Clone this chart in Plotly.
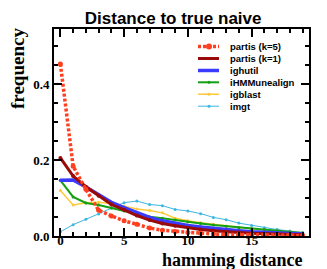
import plotly.graph_objects as go

# ---------------- data ----------------
hamming = list(range(20))

partis_k5 = [0.454, 0.184, 0.123, 0.068, 0.053, 0.040, 0.031, 0.021, 0.015, 0.012,
             0.009, 0.007, 0.005, 0.004, 0.004, 0.003, 0.003, 0.002, 0.002, 0.001]
partis_k1 = [0.206, 0.158, 0.130, 0.106, 0.083, 0.069, 0.054, 0.042, 0.033, 0.027,
             0.022, 0.017, 0.014, 0.011, 0.009, 0.007, 0.006, 0.005, 0.004, 0.003]
ighutil = [0.147, 0.148, 0.129, 0.109, 0.089, 0.075, 0.061, 0.049, 0.040, 0.033,
           0.028, 0.024, 0.020, 0.016, 0.014, 0.011, 0.009, 0.008, 0.006, 0.005]
ihmmunealign = [0.147, 0.103, 0.087, 0.082, 0.074, 0.066, 0.059, 0.051, 0.047, 0.042,
                0.037, 0.033, 0.029, 0.026, 0.022, 0.019, 0.017, 0.014, 0.011, 0.008]
igblast = [0.120, 0.082, 0.088, 0.089, 0.086, 0.079, 0.071, 0.067, 0.061, 0.047,
           0.040, 0.035, 0.031, 0.026, 0.022, 0.019, 0.016, 0.013, 0.011, 0.008]
imgt = [0.011, 0.030, 0.044, 0.058, 0.074, 0.088, 0.092, 0.083, 0.080, 0.070,
        0.066, 0.059, 0.049, 0.043, 0.034, 0.028, 0.022, 0.017, 0.013, 0.009]

series_names = ["partis (k=5)", "partis (k=1)", "ighutil", "iHMMunealign", "igblast", "imgt"]
series_values = [partis_k5, partis_k1, ighutil, ihmmunealign, igblast, imgt]

y_tick_vals = [0.0, 0.2, 0.4]
y_tick_text = ["0.0", "0.2", "0.4"]
x_tick_vals = [0, 5, 10, 15]
x_tick_text = ["0", "5", "10", "15"]

# ---------------- styles ----------------
colors = ["#ff3f1f", "#990a0a", "#3b3bff", "#13a013", "#ffc93a", "#3cb6e2"]
widths = [3.5, 3, 3.5, 2, 1.5, 1]
dashes = ["3px,2px", "solid", "solid", "solid", "solid", "solid"]
msizes = [5, 4, 3, 3, 3, 3]

W, H = 327, 269
L, R, T, B = 46, 26, 21, 41
plot_w = W - L - R
plot_h = H - T - B

fig = go.Figure()
draw_order = [5, 4, 3, 2, 1, 0]
for i in draw_order:
    fig.add_trace(go.Scatter(
        x=hamming, y=series_values[i], name=series_names[i],
        mode="lines+markers",
        line=dict(color=colors[i], width=widths[i], dash=dashes[i]),
        marker=dict(color=colors[i], size=msizes[i], symbol="circle"),
        showlegend=False,
    ))

serif = "Liberation Serif"
sans = "Liberation Sans"

axis_common = dict(
    showline=True, linecolor="black", linewidth=2, mirror="allticks",
    ticks="inside", tickcolor="black", tickwidth=1.5, ticklen=8,
    showgrid=False, zeroline=False,
    tickfont=dict(family=serif, size=13, color="black", weight="bold"),
)

fig.update_layout(
    width=W, height=H,
    margin=dict(l=L, r=R, t=T, b=B),
    paper_bgcolor="white", plot_bgcolor="white",
    title=dict(text="Distance to true naive", x=0.505, xref="container",
               y=1 - 10 / H, yref="container", xanchor="center", yanchor="middle",
               font=dict(family=sans, size=17, color="black", weight="bold")),
    xaxis=dict(range=[-0.5, 19.5], tickmode="array", tickvals=x_tick_vals, ticktext=x_tick_text,
               ticklabelstandoff=-9,
               minor=dict(dtick=1, tick0=0, ticks="inside", ticklen=4, tickcolor="black", tickwidth=1.5),
               **axis_common),
    yaxis=dict(range=[0, 0.546], tickmode="array", tickvals=y_tick_vals, ticktext=y_tick_text,
               minor=dict(dtick=0.05, tick0=0, ticks="inside", ticklen=4, tickcolor="black", tickwidth=1.5),
               **axis_common),
    showlegend=False,
)

def px_to_paper_x(px):
    return (px - L) / plot_w

def px_to_paper_y(py):
    return (H - B - py) / plot_h

# axis titles
fig.add_annotation(text="frequency", textangle=-90, showarrow=False,
                   xref="paper", yref="paper", x=px_to_paper_x(10), y=px_to_paper_y(61),
                   xanchor="center", yanchor="middle",
                   font=dict(family=serif, size=19, color="black", weight="bold"))
fig.add_annotation(text="hamming distance", showarrow=False,
                   xref="paper", yref="paper", x=px_to_paper_x(297), y=px_to_paper_y(252),
                   xanchor="right", yanchor="middle",
                   font=dict(family=serif, size=18, color="black", weight="bold"))

# manual compact legend
row_y = [38.5, 50.5, 62.5, 74.3, 86.2, 98.2]
for i, name in enumerate(series_names):
    yp = px_to_paper_y(row_y[i])
    fig.add_shape(type="line", xref="paper", yref="paper",
                  x0=px_to_paper_x(190), x1=px_to_paper_x(211), y0=yp, y1=yp,
                  line=dict(color=colors[i], width=widths[i], dash=dashes[i]))
    ms = 3 if i == 0 else 1.5
    fig.add_shape(type="circle", xref="paper", yref="paper",
                  xsizemode="pixel", ysizemode="pixel",
                  xanchor=px_to_paper_x(201), yanchor=yp,
                  x0=-ms, x1=ms, y0=-ms, y1=ms,
                  fillcolor=colors[i], line=dict(width=0))
    fig.add_annotation(text=name, showarrow=False, xref="paper", yref="paper",
                       x=px_to_paper_x(220), y=yp, xanchor="left", yanchor="middle",
                       font=dict(family=sans, size=9.5, color="black", weight="bold"))

fig.write_html("out.html")
